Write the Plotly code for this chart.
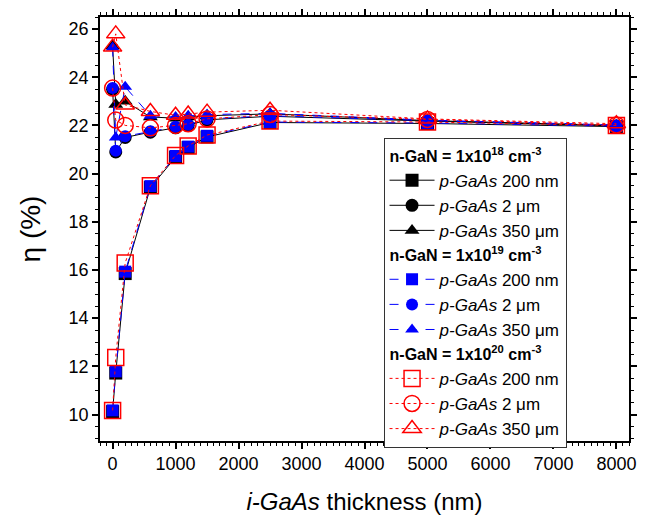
import plotly.graph_objects as go

# i-GaAs thickness (nm)
thickness = [0, 50, 200, 600, 1000, 1200, 1500, 2500, 5000, 8000]

# n-GaN = 1e18 cm^-3
n18_200nm = [10.12, 11.72, 15.85, 19.42, 20.68, 21.08, 21.52, 22.12, 22.08, 21.95]
n18_2um = [23.5, 20.9, 21.5, 21.72, 21.9, 22.0, 22.23, 22.38, 22.18, 21.98]
n18_350um = [25.3, 22.87, 23.0, 22.35, 22.3, 22.35, 22.4, 22.48, 22.2, 22.0]

# n-GaN = 1e19 cm^-3
n19_200nm = [10.17, 11.79, 15.93, 19.48, 20.73, 21.12, 21.57, 22.14, 22.1, 21.97]
n19_2um = [23.55, 20.95, 21.55, 21.76, 21.94, 22.03, 22.27, 22.4, 22.2, 22.0]
n19_350um = [25.23, 21.5, 23.6, 22.4, 22.35, 22.4, 22.45, 22.5, 22.22, 22.02]

# n-GaN = 1e20 cm^-3
n20_200nm = [10.17, 12.37, 16.29, 19.5, 20.75, 21.15, 21.6, 22.18, 22.14, 22.0]
n20_2um = [23.55, 22.22, 22.0, 21.9, 22.0, 22.07, 22.27, 22.45, 22.25, 22.02]
n20_350um = [25.25, 25.8, 22.85, 22.58, 22.42, 22.47, 22.55, 22.63, 22.27, 22.07]

labels = ["<i>p-GaAs</i> 200 nm", "<i>p-GaAs</i> 2 \u03bcm", "<i>p-GaAs</i> 350 \u03bcm"]
group_titles = [
    "<b>n-GaN = 1x10<sup>18</sup> cm<sup>-3</sup></b>",
    "<b>n-GaN = 1x10<sup>19</sup> cm<sup>-3</sup></b>",
    "<b>n-GaN = 1x10<sup>20</sup> cm<sup>-3</sup></b>",
]

FONT = "Arial, Liberation Sans, sans-serif"

fig = go.Figure()

groups = [
    ("g18", [n18_200nm, n18_2um, n18_350um], ["square", "circle", "triangle-up"],
     dict(color="black", width=1, dash="solid"), "black", 13, 0),
    ("g19", [n19_200nm, n19_2um, n19_350um], ["square", "circle", "triangle-up"],
     dict(color="#0000ff", width=1, dash="dash"), "#0000ff", 12, 0),
    ("g20", [n20_200nm, n20_2um, n20_350um], ["square-open", "circle-open", "triangle-up-open"],
     dict(color="#ff0000", width=1, dash="dot"), "#ff0000", 16, 1.5),
]

for gi, (gname, series, symbols, line, mcolor, msize, mlw) in enumerate(groups):
    for si, (vals, sym) in enumerate(zip(series, symbols)):
        marker = dict(symbol=sym, size=msize, color=mcolor)
        if mlw:
            marker["line"] = dict(color=mcolor, width=mlw)
        else:
            marker["line"] = dict(width=0)
        kw = {}
        if si == 0:
            kw["legendgrouptitle"] = dict(text=group_titles[gi],
                                          font=dict(size=16, family=FONT, color="black"))
        fig.add_trace(go.Scatter(
            x=thickness, y=vals, mode="lines+markers",
            name=labels[si], legendgroup=gname,
            line=line, marker=marker, **kw,
        ))

fig.update_layout(
    width=646, height=520,
    margin=dict(l=100, r=9, t=11, b=72),
    paper_bgcolor="white", plot_bgcolor="white",
    font=dict(family=FONT, color="black", size=17),
    showlegend=True,
    legend=dict(
        x=0.536, y=0.715, xanchor="left", yanchor="top",
        bgcolor="white", bordercolor="#333333", borderwidth=1,
        traceorder="grouped", tracegroupgap=0,
        font=dict(size=17, family=FONT),
        itemwidth=45,
    ),
    xaxis=dict(
        range=[-200, 8200], dtick=1000, tick0=0,
        showgrid=False, zeroline=False,
        showline=True, linecolor="black", linewidth=1.5, mirror="ticks",
        ticks="outside", ticklen=6, tickwidth=1.5, tickcolor="black",
        minor=dict(dtick=100, ticks="outside", ticklen=3, tickwidth=1, tickcolor="black"),
        tickfont=dict(size=18),
        title=dict(text="<i>i-GaAs</i> thickness (nm)", font=dict(size=24), standoff=20),
    ),
    yaxis=dict(
        range=[8.9, 26.5], dtick=2, tick0=0,
        showgrid=False, zeroline=False,
        showline=True, linecolor="black", linewidth=1.5, mirror="ticks",
        ticks="outside", ticklen=6, tickwidth=1.5, tickcolor="black",
        minor=dict(dtick=0.5, ticks="outside", ticklen=3, tickwidth=1, tickcolor="black"),
        tickfont=dict(size=18),
        title=dict(text="\u03b7 (%)", font=dict(size=28), standoff=20),
    ),
)

fig.write_html("out.html")
